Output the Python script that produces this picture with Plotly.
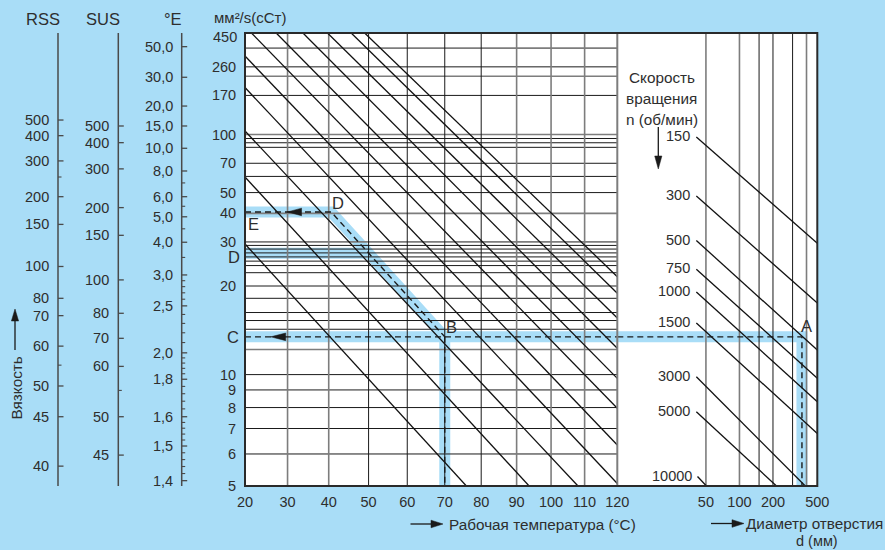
import numpy as np
import plotly.graph_objects as go

# ---------------- values ----------------
temp_ticks = [20, 30, 40, 50, 60, 70, 80, 90, 100, 110, 120]
temp_grid_dark = [50, 60, 70, 80]
temp_grid_grey = [30, 40, 90, 100, 110]

visc_top_label = 450
visc_ticks = [260, 170, 100, 70, 50, 40, 30, 20, 10, 9, 8, 7, 6, 5]
visc_grid_dark = [260, 170, 95, 90, 85, 70, 60, 50, 29, 28, 27, 26, 25, 24, 22.5,
                  20, 18, 16, 15, 14, 10, 8, 7, 6]
visc_grid_grey = [350, 225, 100, 40, 30, 12, 9]

diam_ticks = [50, 100, 200, 500]
diam_grid_dark = [150, 200, 300]
diam_grid_grey = [50, 100, 400]

# viscosity-temperature lines (start / end points)
oil_T_start = [20, 20, 20, 20, 20, 21.5, 27.3, 33.7, 39.7, 45.6, 49.0]
oil_v_start = [29.4, 59.6, 104.6, 190.5, 308, 450, 450, 450, 450, 450, 450]
oil_T_end = [75.9, 93.6, 108.0, 120, 120, 120, 120, 120, 120, 120, 120]
oil_v_end = [5, 5, 5, 5.07, 6.33, 7.96, 9.74, 12.1, 15.3, 18.8, 21.7]

# rotational speed lines (diameter / viscosity)
speed_labels = ["150", "300", "500", "750", "1000", "1500", "3000", "5000", "10000"]
speed_d_start = [41, 41, 41, 41, 41, 41, 41, 41, 42]
speed_v_start = [96.9, 48.2, 30.4, 23.2, 19.0, 14.7, 9.85, 7.79, 5.27]
speed_d_end = [500, 500, 500, 500, 500, 500, 390, 215, 50.5]
speed_v_end = [29.6, 17.3, 11.95, 9.75, 8.31, 6.79, 5, 5, 5]

# side conversion scales: label -> equivalent cSt
rss_labels = [500, 400, 300, 200, 150, 100, 80, 70, 60, 50, 45, 40]
rss_cst = [120.9, 98.5, 72.0, 47.8, 35.7, 23.8, 18.0, 15.6, 12.3, 9.24, 7.54, 5.59]
rss_minor = [250, 55]
sus_labels = [500, 400, 300, 200, 150, 100, 80, 70, 60, 50, 45]
sus_cst = [111.7, 90.1, 65.5, 42.5, 32.0, 21.1, 15.9, 13.05, 10.6, 7.54, 5.96]
sus_minor = [55]
engler_values = [50, 30, 20, 15, 10, 8, 6, 5, 4, 3, 2.5, 2, 1.8, 1.6, 1.5, 1.4]
engler_text = ["50,0", "30,0", "20,0", "15,0", "10,0", "8,0", "6,0", "5,0", "4,0",
               "3,0", "2,5", "2,0", "1,8", "1,6", "1,5", "1,4"]
engler_cst = [358.4, 221.8, 146.3, 111.7, 84.0, 63.9, 47.8, 38.6, 29.9, 22.05, 16.9,
              11.7, 9.68, 7.54, 6.29, 5.15]
engler_minor = [7, 5.5, 4.5, 3.5, 2.9, 2.8, 2.7, 2.6, 2.4, 2.3, 2.2, 2.1,
                1.96, 1.92, 1.88, 1.84, 1.76, 1.72, 1.68, 1.64,
                1.58, 1.56, 1.54, 1.52, 1.48, 1.46, 1.44, 1.42]

# worked example A-B-C-D-E
ex_d_A = 364
ex_T_B = 70
ex_v_C = 13.2
ex_T_D = 40.6
ex_v_E = 40.6
ex_v_D2 = 26.9
ex_T_D2_end = 49
ex_T_arrow_C = 26
ex_T_arrow_E = 30

# ---------------- scales ----------------
def tx(T):
    return np.log10(np.asarray(T, dtype=float) + 273.15)

def vy(v):
    return np.log10(np.log10(np.asarray(v, dtype=float) + 0.7))

W, H = 885, 550
TOP, BOT = 33, 486
X_L, X_M, X_R = 245, 617.3, 817.3
XR = [float(tx(20)), float(tx(120))]
YR = [float(vy(5)), float(vy(450))]
D_RANGE = [np.log10(8), np.log10(500)]

def px(x):
    return x / W

def py(y):
    return (BOT - y) / (BOT - TOP)

def pix_T(T):
    return X_L + (float(tx(T)) - XR[0]) / (XR[1] - XR[0]) * (X_M - X_L)

def pix_v(v):
    return BOT - (float(vy(v)) - YR[0]) / (YR[1] - YR[0]) * (BOT - TOP)

BG = "#a9ddf7"
BAND = "#a9ddf7"
TXT = "#2e2e2e"
DARK = "#1a1a1a"
GREY = "#7d7d7d"
FONT = "Liberation Sans, Arial, sans-serif"
NUM = 14.5
TXTSIZE = 15.3

fig = go.Figure()

def add_line(xs, ys, axis="x", color=DARK, width=1.1, dash=None):
    fig.add_trace(go.Scatter(x=list(xs), y=list(ys), mode="lines", xaxis=axis, yaxis="y",
                             line=dict(color=color, width=width, dash=dash),
                             hoverinfo="skip", showlegend=False))

def seg_list(pairs):
    xs, ys = [], []
    for (x0, y0, x1, y1) in pairs:
        xs += [x0, x1, None]
        ys += [y0, y1, None]
    return xs, ys

# --- highlight bands (under everything)
add_line(tx([20, 120]), vy([ex_v_C, ex_v_C]), "x", BAND, 11)
add_line([8, ex_d_A, ex_d_A], vy([ex_v_C, ex_v_C, 5]), "x2", BAND, 11)
add_line(tx([ex_T_B, ex_T_B]), vy([ex_v_C, 5]), "x", BAND, 11)
add_line(tx([20, ex_T_D2_end]), vy([ex_v_D2, ex_v_D2]), "x", BAND, 11)
add_line(tx([20, ex_T_D, ex_T_B]), vy([ex_v_E, ex_v_E, ex_v_C]), "x", BAND, 11)

# --- grid: horizontal (temperature section only)
for vals, col, wd in [(visc_grid_grey, GREY, 1.6), (visc_grid_dark, DARK, 1.0)]:
    xs, ys = seg_list([(XR[0], float(vy(v)), XR[1], float(vy(v))) for v in vals])
    add_line(xs, ys, "x", col, wd)
# vertical temperature lines
for vals, col, wd in [(temp_grid_grey, GREY, 1.6), (temp_grid_dark, DARK, 1.0)]:
    xs, ys = seg_list([(float(tx(t)), YR[0], float(tx(t)), YR[1]) for t in vals])
    add_line(xs, ys, "x", col, wd)
# vertical diameter lines
for vals, col, wd in [(diam_grid_grey, GREY, 1.6), (diam_grid_dark, DARK, 1.0)]:
    xs, ys = seg_list([(d, YR[0], d, YR[1]) for d in vals])
    add_line(xs, ys, "x2", col, wd)

# --- oil viscosity-temperature lines
xs, ys = seg_list([(float(tx(a)), float(vy(b)), float(tx(c)), float(vy(d)))
                   for a, b, c, d in zip(oil_T_start, oil_v_start, oil_T_end, oil_v_end)])
add_line(xs, ys, "x", "#111111", 1.3)

# --- speed lines
xs, ys = seg_list([(a, float(vy(b)), c, float(vy(d)))
                   for a, b, c, d in zip(speed_d_start, speed_v_start, speed_d_end, speed_v_end)])
add_line(xs, ys, "x2", "#111111", 1.3)

# --- dashed example path
DASH = "6px,4px"
add_line(tx([20, 120]), vy([ex_v_C, ex_v_C]), "x", DARK, 1.4, DASH)
add_line([8, ex_d_A, ex_d_A], vy([ex_v_C, ex_v_C, 5]), "x2", DARK, 1.4, DASH)
add_line(tx([ex_T_B, ex_T_B]), vy([ex_v_C, 5]), "x", DARK, 1.4, DASH)
add_line(tx([20, ex_T_D, ex_T_B]), vy([ex_v_E, ex_v_E, ex_v_C]), "x", DARK, 1.4, DASH)

shapes = []
annotations = []

def ann(x, y, text, size=14, xanchor="center", yanchor="middle", xref="paper",
        yref="paper", angle=0, xshift=0, yshift=0):
    annotations.append(dict(x=x, y=y, text=text, xref=xref, yref=yref, showarrow=False,
                            xanchor=xanchor, yanchor=yanchor, textangle=angle,
                            xshift=xshift, yshift=yshift, borderpad=0,
                            font=dict(size=size, color=TXT, family=FONT)))

def pline(x0, y0, x1, y1, color=DARK, width=1.4):
    shapes.append(dict(type="line", xref="paper", yref="paper", x0=px(x0), y0=py(y0),
                       x1=px(x1), y1=py(y1), line=dict(color=color, width=width)))

def head(tx_, ty_, ux, uy, hl=13, hw=3.8, color=DARK):
    bx, by = tx_ - ux * hl, ty_ - uy * hl
    qx, qy = -uy, ux
    pts = [(tx_, ty_), (bx + qx * hw, by + qy * hw), (bx - qx * hw, by - qy * hw)]
    path = "M" + " L".join(f"{px(a):.5f},{py(b):.5f}" for a, b in pts) + " Z"
    shapes.append(dict(type="path", xref="paper", yref="paper", path=path,
                       fillcolor=color, line=dict(color=color, width=0.5)))

def arrow(x0, y0, x1, y1, hl=13, hw=3.8):
    L = np.hypot(x1 - x0, y1 - y0)
    ux, uy = (x1 - x0) / L, (y1 - y0) / L
    pline(x0, y0, x1 - ux * hl * 0.8, y1 - uy * hl * 0.8, DARK, 1.3)
    head(x1, y1, ux, uy, hl, hw)

# arrowheads on the dashed example lines
head(pix_T(ex_T_arrow_C), pix_v(ex_v_C), -1, 0, 15, 3.8)
head(pix_T(ex_T_arrow_E), pix_v(ex_v_E), -1, 0, 14, 3.8)

# plot frame and section separator
shapes.append(dict(type="line", xref="paper", yref="paper", x0=px(X_M), x1=px(X_M), y0=0, y1=1,
                   line=dict(color=GREY, width=2)))
shapes.append(dict(type="rect", xref="paper", yref="paper", x0=px(X_L), x1=px(X_R), y0=0, y1=1,
                   line=dict(color="#2a2a2a", width=2)))

# --- side conversion scales
def scale_interp(vals, labels, cst):
    lv = np.log10(np.asarray(labels, dtype=float))[::-1]
    w = vy(cst)[::-1]
    return np.interp(np.log10(np.asarray(vals, dtype=float)), lv, w)

def side_scale(xline, labels, texts, cst, minor, label_right, tick_major=5.5, tick_minor=3.5):
    shapes.append(dict(type="line", xref="paper", yref="paper", x0=px(xline), x1=px(xline),
                       y0=0, y1=1, line=dict(color="#4a4a4a", width=1.5)))
    for t, c in zip(texts, cst):
        w = float(vy(c))
        shapes.append(dict(type="line", xref="paper", yref="y", x0=px(xline), x1=px(xline + tick_major),
                           y0=w, y1=w, line=dict(color="#4a4a4a", width=1.3)))
        ann(px(label_right), w, t, NUM, xanchor="right", yref="y")
    if minor:
        for w in scale_interp(minor, labels, cst):
            shapes.append(dict(type="line", xref="paper", yref="y", x0=px(xline),
                               x1=px(xline + tick_minor), y0=float(w), y1=float(w),
                               line=dict(color="#4a4a4a", width=1.1)))

side_scale(58, rss_labels, [str(v) for v in rss_labels], rss_cst, rss_minor, 49.5)
side_scale(118.3, sus_labels, [str(v) for v in sus_labels], sus_cst, sus_minor, 109.5)
side_scale(181.7, engler_values, engler_text, engler_cst, engler_minor, 173.5, 5.5, 3.5)

# headers
ann(px(42.5), py(19), "RSS", 16.5)
ann(px(102.5), py(19), "SUS", 16.5)
ann(px(172.5), py(19), "°E", 16.5)
ann(px(213), py(17.5), "мм²/s(cСт)", 15, xanchor="left")
ann(px(15.5), py(388), "Вязкость", TXTSIZE, angle=-90)
arrow(15, 350, 15, 309, 12, 3.6)

# top viscosity label sits just below the frame line
ann(px(237.5), float(vy(visc_top_label)), str(visc_top_label), NUM, xanchor="right",
    yref="y", yshift=-3.5)

# speed labels
for lab, d0, v0 in zip(speed_labels, speed_d_start, speed_v_start):
    ann(np.log10(d0), float(vy(v0)), lab, NUM, xanchor="right", xref="x2", yref="y",
        xshift=-5, yshift=1)
ann(px(661.5), py(77), "Скорость", TXTSIZE)
ann(px(661.5), py(98.5), "вращения", TXTSIZE)
ann(px(661.5), py(119.5), "n (об/мин)", TXTSIZE)
arrow(658.3, 127, 658.3, 169, 13, 3.6)

# axis titles
ann(px(448), py(524), "Рабочая температура (°C)", TXTSIZE, xanchor="left")
arrow(410.5, 524, 443, 524, 12, 3.8)
ann(px(745), py(523.5), "Диаметр отверстия", TXTSIZE, xanchor="left")
ann(px(816.7), py(550), "d (мм)", 14.5, yanchor="bottom")
arrow(711, 523.5, 744, 523.5, 12, 3.8)

# example letters
ann(px(806), py(326), "A", 16.5)
ann(px(451.5), py(327), "B", 16.5)
ann(px(233), py(336.5), "C", 16.5)
ann(px(337.5), py(202.5), "D", 16.5)
ann(px(233.5), py(257), "D", 16.5)
ann(px(253), py(223.5), "E", 16.5)

hidden_tick = dict(ticks="outside", tickcolor="rgba(0,0,0,0)", showgrid=False,
                   zeroline=False, showline=False, fixedrange=True, automargin=False)

fig.update_layout(
    width=W, height=H,
    margin=dict(l=0, r=0, t=TOP, b=H - BOT, pad=0, autoexpand=False),
    paper_bgcolor=BG, plot_bgcolor="white",
    font=dict(family=FONT, size=NUM, color=TXT),
    showlegend=False,
    xaxis=dict(domain=[px(X_L), px(X_M)], range=XR, tickvals=list(tx(temp_ticks)),
               ticktext=[str(t) for t in temp_ticks], ticklen=3, anchor="y",
               tickfont=dict(size=NUM, color=TXT), **hidden_tick),
    xaxis2=dict(domain=[px(X_M), px(X_R)], type="log", range=D_RANGE, tickvals=diam_ticks,
                ticktext=[str(d) for d in diam_ticks], ticklen=3, anchor="y",
                tickfont=dict(size=NUM, color=TXT), **hidden_tick),
    yaxis=dict(domain=[0, 1], range=YR, tickvals=list(vy(visc_ticks)),
               ticktext=[str(v) for v in visc_ticks], ticklen=5, anchor="x",
               tickfont=dict(size=NUM, color=TXT), **hidden_tick),
    shapes=shapes,
    annotations=annotations,
)

fig.write_html("out.html", config={"displayModeBar": False},
               post_script="document.body.style.margin='0';document.body.style.overflow='hidden';"
                           "document.body.style.background='" + BG + "';")
